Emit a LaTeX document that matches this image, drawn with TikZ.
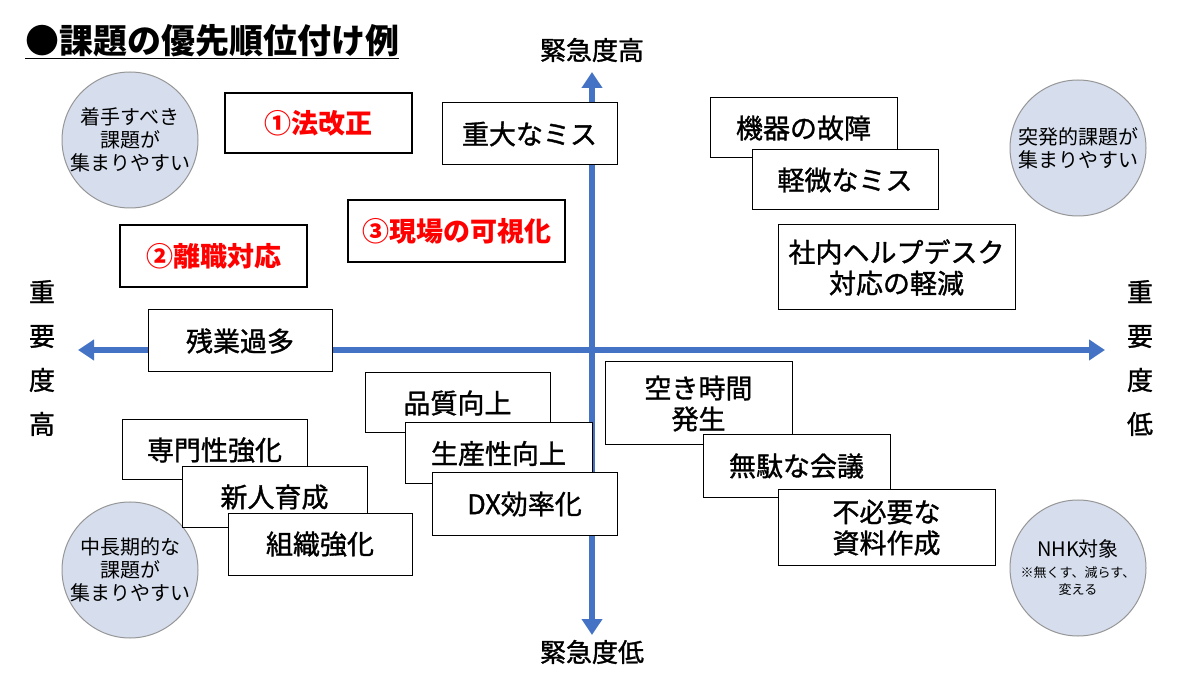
\documentclass[tikz,border=0pt]{standalone}
\usepackage{fontspec}
\setmainfont{Noto Sans CJK JP}
\newfontfamily\medf[FakeBold=1.2]{Noto Sans CJK JP}
\usetikzlibrary{arrows.meta}
\definecolor{axb}{RGB}{68,114,196}
\definecolor{cfill}{RGB}{214,222,238}
\definecolor{cbord}{RGB}{150,150,150}
\definecolor{red1}{RGB}{255,0,0}
\begin{document}
\begin{tikzpicture}[x=1pt,y=-1pt,
  bx/.style={draw=black,line width=1pt,fill=white,font=\medf\fontsize{27}{31}\selectfont,align=center,inner sep=0pt},
  rb/.style={draw=black,line width=2.5pt,fill=white,text=red1,font=\bfseries\fontsize{27}{31}\selectfont,inner sep=0pt},
  circ/.style={circle,draw=cbord,fill=cfill,line width=1pt,minimum size=136pt,inner sep=0pt,align=center,font=\fontsize{20}{23}\selectfont},
  ax/.style={axb,line width=6pt,-{Triangle[length=16pt,width=20pt]}},
  lab/.style={font=\medf\fontsize{26}{30}\selectfont,align=center}]
\useasboundingbox (0,0) rectangle (1200,700);
\fill[white] (0,0) rectangle (1200,700);
% circles
\node[circ] (c1) at (130,140) {着手すべき\\課題が\\集まりやすい};
\node[circ] (c2) at (1078,148) {突発的課題が\\集まりやすい};
\node[circ] (c3) at (130,570) {中長期的な\\課題が\\集まりやすい};
\node[circ] (c4) at (1078,568) {NHK対象\\[-2pt]{\fontsize{13}{16}\selectfont ※無くす、減らす、}\\[-6pt]{\fontsize{13}{16}\selectfont 変える}};
% axes
\coordinate (o) at (592,350);
\coordinate (t) at (592,72);
\coordinate (b) at (592,635);
\coordinate (l) at (78,350);
\coordinate (r) at (1105,350);
\draw[ax] (o) -- (t);
\draw[ax] (o) -- (b);
\draw[ax] (o) -- (l);
\draw[ax] (o) -- (r);
% labels
\node[lab] (tl) at (592,50) {緊急度高};
\node[lab] (bl) at (592,652) {緊急度低};
\node[lab] (ll) at (42,358) {重\\[14pt]要\\[14pt]度\\[14pt]高};
\node[lab] (rl) at (1140,358) {重\\[14pt]要\\[14pt]度\\[14pt]低};
\node[font=\bfseries\fontsize{34}{38}\selectfont,anchor=west,inner sep=0pt] (title) at (25,42) {\underline{●課題の優先順位付け例}};
% boxes
\node[rb,minimum width=187pt,minimum height=60pt] (a1) at (318.5,123) {①法改正};
\node[rb,minimum width=187pt,minimum height=62pt] (a2) at (213.5,256) {②離職対応};
\node[rb,minimum width=217pt,minimum height=62pt] (a3) at (456.5,231) {③現場の可視化};
\node[bx,minimum width=175pt,minimum height=62pt] (b1) at (529.5,134) {重大なミス};
\node[bx,minimum width=187pt,minimum height=60pt] (b2) at (803.5,128) {機器の故障};
\node[bx,minimum width=186pt,minimum height=60pt] (b3) at (845,180) {軽微なミス};
\node[bx,minimum width=237pt,minimum height=85pt] (b4) at (896.5,267.5) {社内ヘルプデスク\\対応の軽減};
\node[bx,minimum width=184pt,minimum height=62pt] (b5) at (240,341) {残業過多};
\node[bx,minimum width=185pt,minimum height=60pt] (d1) at (457.5,403) {品質向上};
\node[bx,minimum width=187pt,minimum height=61pt] (d2) at (498.5,453.5) {生産性向上};
\node[bx,minimum width=185pt,minimum height=62pt] (d3) at (524.5,504) {DX効率化};
\node[bx,minimum width=187pt,minimum height=83pt] (e1) at (698.5,403.5) {空き時間\\発生};
\node[bx,minimum width=187pt,minimum height=62pt] (e2) at (796.5,466) {無駄な会議};
\node[bx,minimum width=217pt,minimum height=75pt] (e3) at (886.5,527.5) {不必要な\\資料作成};
\node[bx,minimum width=185pt,minimum height=60pt] (f1) at (214.5,450) {専門性強化};
\node[bx,minimum width=185pt,minimum height=60pt] (f2) at (274.5,497) {新人育成};
\node[bx,minimum width=184pt,minimum height=62pt] (f3) at (320,544) {組織強化};
\end{tikzpicture}
\end{document}
